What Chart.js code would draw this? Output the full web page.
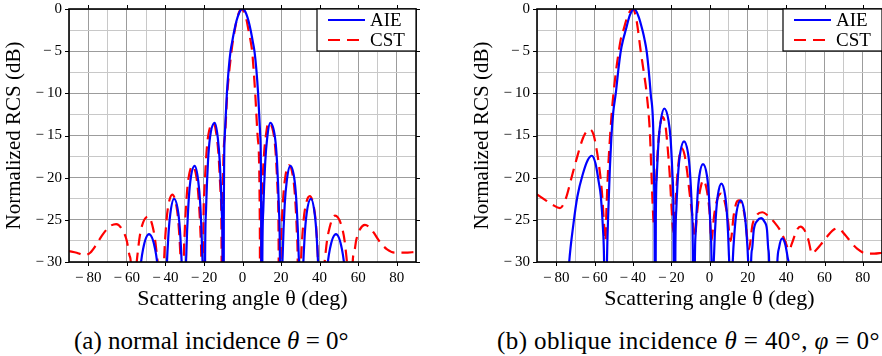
<!DOCTYPE html>
<html>
<head>
<meta charset="utf-8">
<script src="https://cdn.jsdelivr.net/npm/chart.js@4.4.0/dist/chart.umd.min.js"></script>
<style>
  html, body { margin: 0; padding: 0; background: #fff; overflow: hidden; }
  #wrap { position: relative; width: 882px; height: 356px; }
  .pane { position: absolute; top: 0; width: 441px; height: 320px; }
  .cap { position: absolute; top: 328px; font-family: 'Liberation Serif', 'Times New Roman', serif;
         font-size: 25px; line-height: 26px; white-space: nowrap; color: #000; }
</style>
</head>
<body>
<div id="wrap">
  <div class="pane" style="left:0"><canvas id="chartA" width="441" height="320"></canvas></div>
  <div class="pane" style="left:441px"><canvas id="chartB" width="441" height="320"></canvas></div>
  <div class="cap" style="left:74px">(a) normal incidence <i>θ</i> = 0°</div>
  <div class="cap" style="left:497px; letter-spacing:0.4px">(b) oblique incidence <i>θ</i> = 40°, <i>φ</i> = 0°</div>
</div>
<script>
// tick labels
const xTickLabels = [-80, -60, -40, -20, 0, 20, 40, 60, 80];
const yTickLabels = [-30, -25, -20, -15, -10, -5, 0];
const seriesNames = ['AIE', 'CST'];

// (a) normal incidence - AIE
const angleAieA = [-90, -56.3, -55.5, -54.7, -53.2, -51.6, -48.5, -45.3, -43.7, -42.2, -41.4, -40.6,
  -40.1, -39.6, -38.5, -37.45, -35.5, -33.25, -32.2, -31.15, -30.6, -30.1,
  -29.6, -29.1, -28.05, -27.05, -24.8, -22.95, -21.9, -20.9, -20.4, -19.9,
  -19.4, -18.9, -17.9, -16.9, -14.4, -12.8, -11.8, -10.8, -10.3, -9.8,
  -9.7, -9.2, -8.1, -7.2, -6.2, -5.2, -4.2, -3.1, -2, -1, 0, 1, 2, 3.1, 4.2, 5.2, 6.2, 7.2, 8.1, 9.2, 9.7, 9.8,
  10.3, 10.8, 11.8, 12.8, 14.4, 16.9, 17.9, 18.9, 19.4, 19.9,
  20.4, 20.9, 21.9, 22.95, 24.8, 27.05, 28.05, 29.1, 29.6, 30.1,
  30.6, 31.15, 32.2, 33.25, 35.5, 37.45, 38.5, 39.6, 40.1, 40.6,
  41.4, 42.2, 43.7, 45.3, 48.5, 51.6, 53.2, 54.7, 55.5, 56.3, 90];
const rcsAieA = [-50, -60, -42.7, -36.9, -31.3, -28.5, -26.7, -28.5, -31.3, -36.9, -42.7, -60,
  -38.5, -32.7, -27.1, -24.3, -22.5, -24.3, -27.1, -32.7, -38.5, -60,
  -34.6, -28.8, -23.2, -20.4, -18.6, -20.4, -23.2, -28.8, -34.6, -60,
  -29.5, -23.7, -18.1, -15.3, -13.5, -15.3, -18.1, -23.7, -29.5, -60,
  -25, -15, -10, -7.2, -5, -3.7, -2.5, -1.4, -0.6, -0.15, 0, -0.15, -0.6, -1.4, -2.5, -3.7, -5, -7.2, -10, -15, -25, -60,
  -29.5, -23.7, -18.1, -15.3, -13.5, -15.3, -18.1, -23.7, -29.5, -60,
  -34.6, -28.8, -23.2, -20.4, -18.6, -20.4, -23.2, -28.8, -34.6, -60,
  -38.5, -32.7, -27.1, -24.3, -22.5, -24.3, -27.1, -32.7, -38.5, -60,
  -42.7, -36.9, -31.3, -28.5, -26.7, -28.5, -31.3, -36.9, -42.7, -60, -50];

// (a) normal incidence - CST
const angleCstA = [-90, -86, -82, -79, -76, -73, -69, -65.5, -62, -60, -58.5, -57.6, -57.1,
  -56.3, -55.6, -54.0, -52.5, -48.9, -46.4, -44.9, -43.3, -42.6, -41.8,
  -41.25, -40.7, -39.6, -38.55, -36.4, -34.25, -33.15, -32.1, -31.55, -31.0,
  -30.5, -30.0, -28.95, -27.95, -25.9, -23.85, -22.85, -21.8, -21.3, -20.8,
  -20.3, -19.75, -18.7, -17.7, -15.0, -13.5, -12.5, -11.45, -10.9, -10.4,
  -10.3, -9.3, -7.9, -6.85, -5.7, -4.85, -4.0, -3.2, -2.4, -1.5, -0.5, 0.5, 1.4, 2.3, 3.1, 4.05, 5.0, 5.8, 6.6, 8.0, 9.0, 9.2,
  9.7, 10.2, 11.2, 12.2, 13.4, 16.2, 17.2, 18.2, 18.7, 19.2,
  19.7, 20.2, 21.2, 22.2, 24.0, 26.2, 27.2, 28.2, 28.7, 29.2,
  29.75, 30.3, 31.4, 32.5, 34.9, 37.1, 38.2, 39.2, 39.75, 40.3,
  41.1, 41.9, 43.5, 45.2, 48.0, 51.6, 53.3, 54.9, 55.7, 56.5,
  57.0, 57.8, 59.0, 61.0, 63.5, 66, 68, 71.5, 75, 79, 84, 90];
const rcsCstA = [-28.7, -28.9, -29.2, -28.9, -28.0, -26.9, -25.8, -25.5, -26.3, -27.5, -29.3, -32, -60,
  -37.6, -32.6, -28.2, -26.0, -24.6, -26.0, -28.2, -32.6, -37.6, -60,
  -35.0, -30.0, -25.6, -23.4, -22.0, -23.4, -25.6, -30.0, -35.0, -60,
  -31.6, -26.6, -22.2, -20.0, -18.6, -20.0, -22.2, -26.6, -31.6, -60,
  -26.5, -21.5, -17.1, -14.9, -13.5, -14.9, -17.1, -21.5, -26.5, -60,
  -26, -15.5, -10, -7.3, -5, -3.6, -2.5, -1.5, -0.8, -0.25, 0, -0.25, -0.8, -1.5, -2.5, -3.6, -5, -7.3, -10, -15.5, -26, -60,
  -26.5, -21.5, -17.1, -14.9, -13.5, -14.9, -17.1, -21.5, -26.5, -60,
  -31.5, -26.5, -22.1, -19.9, -18.5, -19.9, -22.1, -26.5, -31.5, -60,
  -35.2, -30.2, -25.8, -23.6, -22.2, -23.6, -25.8, -30.2, -35.2, -60,
  -37.5, -32.5, -28.1, -25.9, -24.5, -25.9, -28.1, -32.5, -37.5, -60,
  -31, -29, -27.4, -26.1, -25.6, -25.9, -26.5, -27.7, -28.5, -28.9, -28.9, -28.8];

// (b) oblique incidence - AIE
const angleAieB = [-90, -78, -76, -73.2, -71, -68.9, -66, -63.5, -61.4, -59.5, -57.8, -56.7, -55.6, -55.0, -54.6, -54.3,
  -54.0, -53.5, -52.8, -52.0, -51.2, -50.2, -48.9, -47.6, -46.3, -45.0, -43.7, -41.5, -39.2, -37.0, -35.0, -33.9, -32.8, -31.7, -30.7, -29.3, -28.8, -28.6, -28.5,
  -28.0, -27.5, -26.5, -25.4, -23.6, -21.4, -20.3, -19.3, -18.8, -18.3,
  -17.8, -17.3, -16.3, -15.3, -13.3, -11.2, -10.2, -9.2, -8.7, -8.2,
  -7.7, -7.2, -6.2, -5.3, -3.4, -1.3, -0.35, 0.6, 1.1, 1.5,
  2.0, 2.45, 3.4, 4.35, 6.2, 8.15, 9.1, 10.05, 10.5, 11.0,
  11.5, 12.0, 13.1, 14.1, 16.3, 18.2, 19.2, 20.3, 20.8, 21.3,
  21.6, 22.2, 23.1, 25.0, 26.9, 28.6, 30.0, 30.7, 31.2, 31.5,
  34.8, 35.4, 36.3, 37.9, 39.5, 40.8, 41.5, 42.2, 43.0, 90];
const rcsAieB = [-50, -60, -40, -30, -25.5, -22.2, -19.5, -17.9, -17.4, -18.3, -20.5, -22.2, -26, -30, -40, -60,
  -40, -30, -24, -19, -15.2, -12.2, -10, -7.3, -5, -3.6, -2.5, -0.7, 0, -0.9, -2.5, -3.6, -5, -7.3, -10, -14.7, -22, -30, -60,
  -24.8, -19.8, -15.4, -13.2, -11.8, -13.2, -15.4, -19.8, -24.8, -60,
  -28.7, -23.7, -19.3, -17.1, -15.7, -17.1, -19.3, -23.7, -28.7, -60,
  -31.4, -26.4, -22.0, -19.8, -18.4, -19.8, -22.0, -26.4, -31.4, -60,
  -33.7, -28.7, -24.3, -22.1, -20.7, -22.1, -24.3, -28.7, -33.7, -60,
  -35.7, -30.7, -26.3, -24.1, -22.7, -24.1, -26.3, -30.7, -35.7, -60,
  -31, -28.5, -26.2, -25.1, -24.8, -25.2, -26.2, -28.5, -31, -60,
  -35, -30, -28.3, -27.2, -27.9, -29.5, -31, -40, -60, -50];

// (b) oblique incidence - CST
const angleCstB = [-90, -86, -82, -78, -75, -72, -69, -66, -64, -62.3, -60.5, -58.8, -57.8, -56.2, -55.0, -54.3,
  -53.8, -53.0, -52.0, -50.6, -48.8, -47.7, -46.3, -44.9, -42.5, -40.2, -38.5, -37.3, -35.9, -34.4, -32.8, -31.1, -30.2, -29.6, -29.0,
  -28.2, -27.2, -26.0, -24.5, -23.0, -22.0, -20.8, -19.8, -18.8,
  -17.6, -16.5, -14.6, -13.0, -11.6, -10.5, -9.0, -7.6,
  -6.4, -5.0, -3.2, -1.4, 0.0, 1.0, 2.4, 4.0, 6.0, 8.0, 9.5, 11.0,
  12.6, 14.0, 15.4, 17.2, 18.7, 20.5, 22.5, 24.8, 27.5, 30.5, 33.5, 37.0, 39.6, 41.5,
  43.0, 45.6, 47.5, 49.5, 51.5, 53.5, 55.5, 57.8, 61.3, 64.0, 67.0, 70.8, 74.0, 77.0, 82.0, 86.0, 90.0];
const rcsCstB = [-22.0, -22.6, -23.2, -23.6, -22.5, -20, -17.5, -15.3, -14.5, -14.3, -14.9, -16.8, -18.3, -21.5, -25.5, -27.5,
  -24, -19.5, -15.5, -11.2, -7.4, -5.6, -3.6, -2.5, -0.7, 0, -0.8, -2.5, -5, -7.3, -10, -14.7, -20, -23.5, -25.5,
  -22, -17.5, -14.2, -12.8, -13.8, -16.0, -19.5, -23.5, -26.5,
  -22.5, -19, -16.5, -17.3, -19.4, -21.6, -24.4, -27,
  -24.0, -21.6, -20.3, -21.5, -24.0, -27.5, -24.5, -22.6, -21.9, -22.9, -24.8, -27.5,
  -24.5, -23.0, -22.7, -23.3, -25.0, -28.5, -25.5, -24.4, -24.1, -24.5, -25.2, -26.3, -27.6, -28.6,
  -27.8, -26.2, -25.8, -26.2, -27.3, -29.0, -28.6, -28.0, -27.0, -26.3, -26.0, -26.8, -27.7, -28.4, -29.0, -29.0, -28.9];

const serif = "'Liberation Serif', 'Times New Roman', serif";
Chart.defaults.font.family = serif;
Chart.defaults.color = '#000';

function toPoints(xs, ys) {
  return xs.map((x, i) => ({ x: x, y: ys[i] }));
}

function fmt(v) {
  return v < 0 ? '\u2212\u2009' + (-v) : String(v);
}

// black box, outside ticks and the boxed legend
const framePlugin = {
  id: 'frame',
  afterDatasetsDraw(chart) {
    const { ctx, chartArea: a, scales } = chart;
    const sx = scales.x, sy = scales.y;
    ctx.save();
    ctx.strokeStyle = '#000';
    ctx.lineWidth = 1;
    ctx.beginPath();
    xTickLabels.forEach(v => {
      const px = Math.round(sx.getPixelForValue(v)) + 0.5;
      ctx.moveTo(px, a.top); ctx.lineTo(px, a.top - 4);
      ctx.moveTo(px, a.bottom); ctx.lineTo(px, a.bottom + 4);
    });
    yTickLabels.forEach(v => {
      const py = Math.round(sy.getPixelForValue(v)) + 0.5;
      ctx.moveTo(a.left, py); ctx.lineTo(a.left - 4, py);
      ctx.moveTo(a.right, py); ctx.lineTo(a.right + 4, py);
    });
    ctx.stroke();
    ctx.lineWidth = 1.6;
    ctx.strokeRect(a.left, a.top, a.right - a.left, a.bottom - a.top);

    // legend
    const bx = a.right - 99, by = a.top, bw = 99, bh = 42;
    ctx.fillStyle = '#fff';
    ctx.fillRect(bx, by, bw, bh);
    ctx.lineWidth = 1.2;
    ctx.strokeRect(bx, by, bw, bh);
    ctx.font = '19px ' + serif;
    ctx.textBaseline = 'middle';
    chart.data.datasets.forEach((ds, i) => {
      const ly = by + 11 + i * 20;
      ctx.strokeStyle = ds.borderColor;
      ctx.lineWidth = ds.borderWidth;
      ctx.setLineDash(ds.borderDash || []);
      ctx.beginPath();
      ctx.moveTo(bx + 11, ly); ctx.lineTo(bx + 48, ly);
      ctx.stroke();
      ctx.setLineDash([]);
      ctx.fillStyle = '#000';
      ctx.fillText(ds.label, bx + 53, ly + 1);
    });
    ctx.restore();
  }
};

function makeChart(id, aieX, aieY, cstX, cstY, padLeft, padRight) {
  return new Chart(document.getElementById(id), {
    type: 'line',
    data: {
      datasets: [
        { label: seriesNames[0], data: toPoints(aieX, aieY), borderColor: '#0000ff', borderWidth: 2.2,
          pointRadius: 0, cubicInterpolationMode: 'monotone', fill: false },
        { label: seriesNames[1], data: toPoints(cstX, cstY), borderColor: '#ff0000', borderWidth: 2.2,
          borderDash: [12, 7], pointRadius: 0, cubicInterpolationMode: 'monotone', fill: false }
      ]
    },
    options: {
      responsive: false,
      animation: false,
      layout: { padding: { top: 9, right: padRight, left: padLeft, bottom: 0 } },
      plugins: { legend: { display: false }, tooltip: { enabled: false } },
      scales: {
        x: {
          type: 'linear', min: -90, max: 90,
          afterFit: s => { s.height = 58; s.paddingLeft = 0; s.paddingRight = 0; },
          ticks: {
            stepSize: 10, autoSkip: false, maxRotation: 0, padding: 7,
            font: { size: 15 },
            callback: v => xTickLabels.includes(v) ? fmt(v) : ''
          },
          grid: {
            drawTicks: false,
            color: c => (c.tick && c.tick.value % 20 === 0) ? '#9c9c9c' : '#c8c8c8',
            lineWidth: 1
          },
          border: { display: false },
          title: { display: true, text: 'Scattering angle θ (deg)', font: { size: 22 },
                   padding: { top: 0, bottom: 8 } }
        },
        y: {
          min: -30, max: 0,
          afterFit: s => { s.width = 69; s.paddingTop = 0; s.paddingBottom = 0; },
          ticks: {
            stepSize: 2.5, padding: 7, font: { size: 15 },
            callback: v => yTickLabels.includes(v) ? fmt(v) : ''
          },
          grid: {
            drawTicks: false,
            color: c => (c.tick && c.tick.value % 5 === 0) ? '#9c9c9c' : '#c8c8c8',
            lineWidth: 1
          },
          border: { display: false },
          title: { display: true, text: 'Normalized RCS (dB)', font: { size: 21 },
                   padding: { top: 2, bottom: 0 } }
        }
      }
    },
    plugins: [framePlugin]
  });
}

makeChart('chartA', angleAieA, rcsAieA, angleCstA, rcsCstA, 0, 25);
makeChart('chartB', angleAieB, rcsAieB, angleCstB, rcsCstB, 27, 0);
</script>
</body>
</html>
